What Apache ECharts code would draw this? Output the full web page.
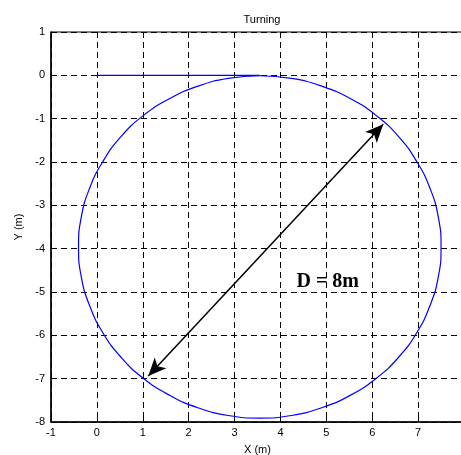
<!DOCTYPE html>
<html>
<head>
<meta charset="utf-8">
<script src="https://cdn.jsdelivr.net/npm/echarts@6/dist/echarts.min.js"></script>
<style>
  html, body { margin: 0; padding: 0; background: #fff; }
  #chart { width: 461px; height: 455px; }
</style>
</head>
<body>
<div id="chart"></div>
<script>
// straight run-in along y = 0
const straightPath = [[0, 0], [3.55, 0]]
// turning circle (clockwise from the top)
const circlePath = [
  [3.55, -0.01], [4.24, -0.07], [4.90, -0.25], [5.53, -0.54], [6.09, -0.93],
  [6.58, -1.42], [6.97, -1.99], [7.26, -2.61], [7.44, -3.27], [7.50, -3.96],
  [7.44, -4.65], [7.26, -5.31], [6.97, -5.94], [6.58, -6.50], [6.09, -6.99],
  [5.53, -7.38], [4.90, -7.67], [4.24, -7.85], [3.55, -7.91], [2.86, -7.85],
  [2.20, -7.67], [1.58, -7.38], [1.01, -6.99], [0.52, -6.50], [0.13, -5.94],
  [-0.16, -5.31], [-0.34, -4.65], [-0.40, -3.96], [-0.34, -3.27], [-0.16, -2.61],
  [0.13, -1.99], [0.52, -1.42], [1.01, -0.93], [1.58, -0.54], [2.20, -0.25],
  [2.86, -0.07], [3.55, -0.01]
]
// diameter arrow ends
const arrowStart = [1.12, -6.94]
const arrowEnd = [6.24, -1.13]
const labelPos = [5.03, -4.77]
const labelText = 'D = 8m'

const chart = echarts.init(document.getElementById('chart'))
const gridLine = { show: true, lineStyle: { color: '#000', type: [6, 4], width: 1 } }
const font = 'Liberation Sans, Arial, sans-serif'

chart.setOption({
  animation: false,
  title: {
    text: 'Turning',
    left: 257, top: 9, textAlign: 'center',
    textStyle: { fontSize: 11, fontWeight: 'normal', color: '#000', fontFamily: font }
  },
  grid: {
    left: 51, top: 32, right: -3, bottom: 33,
    outerBoundsMode: 'none', containLabel: false,
    show: true, borderColor: '#000', borderWidth: 1, backgroundColor: 'transparent'
  },
  xAxis: {
    type: 'value', min: -1, max: 8, interval: 1,
    name: 'X (m)', nameLocation: 'middle', nameGap: 22,
    nameTextStyle: { fontSize: 11, color: '#000', fontFamily: font },
    axisLine: { show: true, onZero: false, lineStyle: { color: '#000', width: 1.5 } },
    axisTick: { show: true, inside: true, length: 4, lineStyle: { color: '#000' } },
    axisLabel: {
      fontSize: 11, color: '#000', margin: 5, fontFamily: font,
      formatter: v => (v > 7 ? '' : v)
    },
    splitLine: gridLine
  },
  yAxis: {
    type: 'value', min: -8, max: 1, interval: 1,
    name: 'Y (m)', nameLocation: 'middle', nameGap: 24,
    nameTextStyle: { fontSize: 11, color: '#000', fontFamily: font },
    axisLine: { show: true, onZero: false, lineStyle: { color: '#000', width: 1.5 } },
    axisTick: { show: true, inside: true, length: 4, lineStyle: { color: '#000' } },
    axisLabel: { fontSize: 11, color: '#000', margin: 6, fontFamily: font },
    splitLine: gridLine
  },
  series: [
    {
      type: 'line', data: straightPath, showSymbol: false,
      lineStyle: { color: '#0000ff', width: 1.2 }
    },
    {
      type: 'line', data: circlePath, showSymbol: false, smooth: 0.5,
      lineStyle: { color: '#0000ff', width: 1.2 },
      markLine: {
        silent: true,
        symbol: ['arrow', 'arrow'],
        symbolSize: [12, 18],
        label: { show: false },
        lineStyle: { color: '#000', width: 1.5, type: 'solid' },
        data: [[{ coord: arrowStart }, { coord: arrowEnd }]]
      },
      markPoint: {
        symbol: 'circle', symbolSize: 0,
        label: {
          show: true, formatter: labelText, color: '#000',
          fontSize: 20, fontWeight: 'bold', fontFamily: 'Liberation Serif, Times New Roman, serif'
        },
        data: [{ coord: labelPos }]
      }
    }
  ]
})
</script>
</body>
</html>
